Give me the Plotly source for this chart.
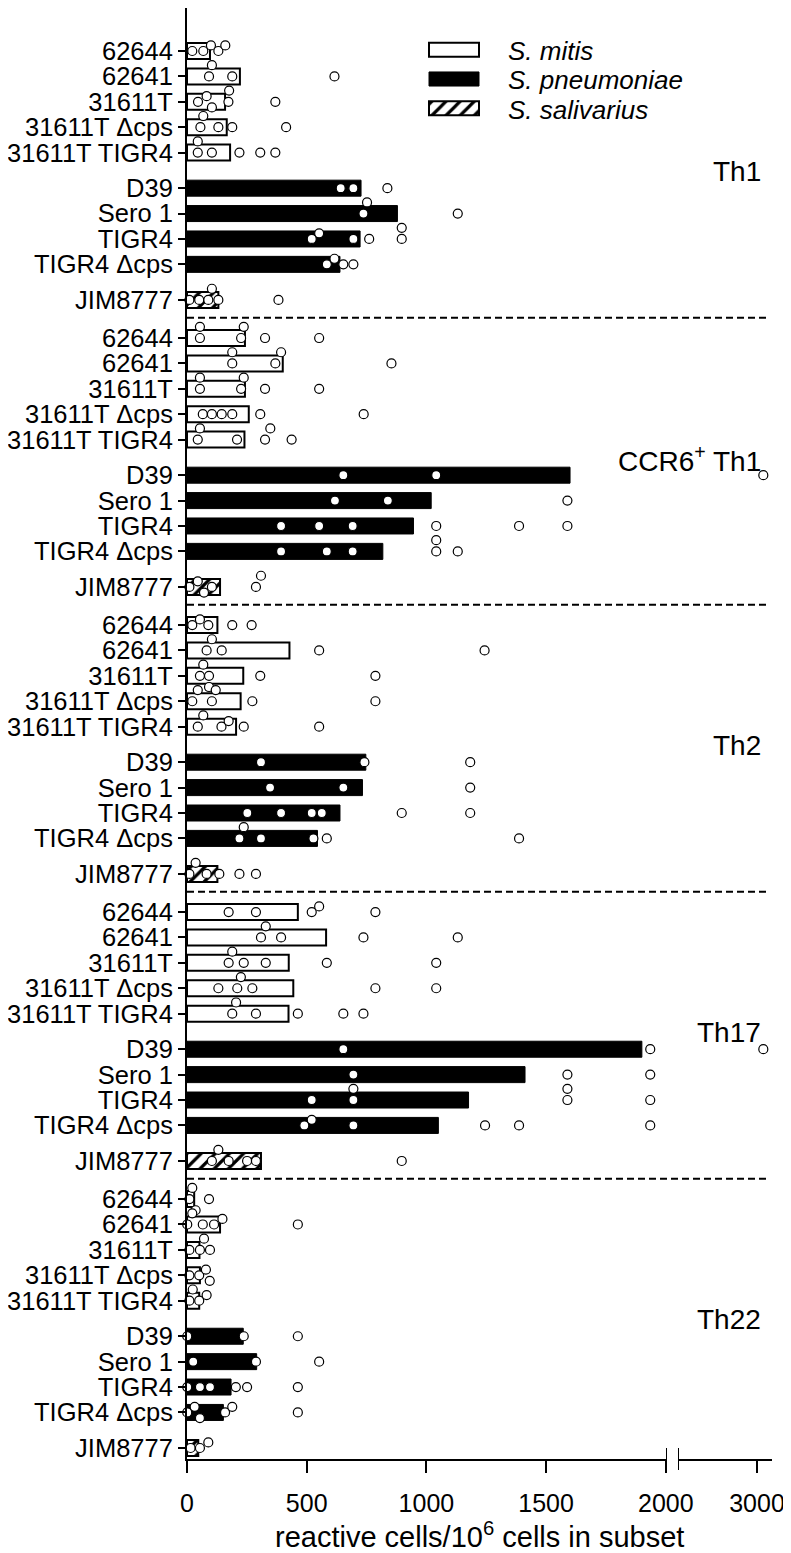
import plotly.graph_objects as go

# ---------------- data ----------------
strains = ["62644", "62641", "31611T", "31611T Δcps", "31611T TIGR4",
           "D39", "Sero 1", "TIGR4", "TIGR4 Δcps", "JIM8777"]
strain_species = ["S. mitis"] * 5 + ["S. pneumoniae"] * 4 + ["S. salivarius"]
subsets = ["Th1", "CCR6<sup>+</sup> Th1", "Th2", "Th17", "Th22"]

th1_bars = [96, 221, 159, 166, 180, 727, 879, 723, 639, 131]
ccr6_bars = [242, 400, 242, 258, 240, 1600, 1020, 946, 818, 138]
th2_bars = [127, 428, 235, 224, 205, 747, 733, 639, 545, 127]
th17_bars = [463, 581, 425, 444, 424, 1900, 1412, 1176, 1050, 309]
th22_bars = [30, 138, 52, 54, 51, 235, 291, 184, 152, 47]

th1_dots = [
    [22, 68, 100, 131, 160],
    [92, 104, 189, 616],
    [46, 82, 104, 173, 176, 369],
    [56, 68, 131, 189, 414],
    [45, 45, 104, 219, 306, 369],
    [642, 695, 837],
    [737, 752, 1131],
    [521, 552, 695, 761, 897, 897],
    [584, 616, 653, 695],
    [10, 51, 89, 104, 131, 382],
]
ccr6_dots = [
    [54, 54, 226, 237, 326, 552],
    [189, 189, 369, 393, 854],
    [54, 54, 226, 237, 326, 552],
    [66, 104, 145, 189, 306, 738],
    [45, 54, 209, 326, 348, 437],
    [653, 1041, 3080],
    [618, 839, 1589],
    [393, 552, 692, 1041, 1387, 1589],
    [393, 584, 692, 1041, 1041, 1131],
    [10, 45, 71, 104, 288, 309],
]
th2_dots = [
    [22, 54, 89, 189, 270],
    [82, 104, 145, 552, 1243],
    [54, 68, 92, 92, 306, 787],
    [22, 45, 104, 120, 273, 787],
    [45, 68, 144, 174, 237, 552],
    [309, 741, 1183],
    [347, 653, 1183],
    [252, 393, 521, 563, 897, 1183],
    [219, 237, 309, 528, 584, 1387],
    [10, 36, 82, 135, 219, 288],
]
th17_dots = [
    [174, 288, 521, 552, 787],
    [309, 329, 393, 737, 1131],
    [174, 189, 237, 329, 584, 1041],
    [131, 210, 225, 273, 787, 1041],
    [189, 205, 288, 463, 653, 737],
    [653, 1935, 3080],
    [695, 1589, 1935],
    [521, 695, 695, 1589, 1589, 1935],
    [490, 521, 695, 1245, 1387, 1935],
    [104, 131, 174, 251, 288, 897],
]
th22_dots = [
    [10, 22, 36, 92],
    [1, 22, 66, 113, 148, 463],
    [10, 54, 71, 96],
    [10, 51, 79, 95],
    [10, 24, 51, 82],
    [1, 237, 463],
    [26, 288, 552],
    [1, 54, 96, 204, 251, 463],
    [1, 32, 54, 159, 189, 463],
    [15, 54, 89],
]

x_ticks_left = [0, 500, 1000, 1500, 2000]
x_ticks_right = [3000]
x_title = "reactive cells/10<sup>6</sup> cells in subset"

all_bars = [th1_bars, ccr6_bars, th2_bars, th17_bars, th22_bars]
all_dots = [th1_dots, ccr6_dots, th2_dots, th17_dots, th22_dots]

# ---------------- layout constants ----------------
FONT = "Liberation Sans, Arial, sans-serif"
ROW_OFFSETS = [0, 1, 2, 3, 4, 5.4, 6.4, 7.4, 8.4, 9.8]
PANEL_STEP = 11.3
BAR_W = 0.63
LEFT_MAX = 2005
RIGHT_RANGE = [2000, 3190]
PX_PER_VAL = 480 / LEFT_MAX
PX_PER_ROW = 25.4
FIRST_ROW_PX = 51
DOT_D = 9


def row_pos(p, i):
    return p * PANEL_STEP + ROW_OFFSETS[i]


def swarm(vals):
    order = sorted(range(len(vals)), key=lambda k: vals[k])
    placed = []
    offs = [0.0] * len(vals)
    for k in order:
        v = vals[k]
        xp = v * PX_PER_VAL if v <= LEFT_MAX else 100000 + v
        chosen = 0.0
        for o in [0.0, -0.22, 0.22, -0.44, 0.44]:
            if all((xp - px) ** 2 + ((o - po) * PX_PER_ROW) ** 2 >= (DOT_D - 0.3) ** 2
                   for px, po in placed):
                chosen = o
                break
        placed.append((xp, chosen))
        offs[k] = chosen
    return offs


fig = go.Figure()

species_style = {
    "S. mitis": dict(color="white", line=dict(color="black", width=2)),
    "S. pneumoniae": dict(color="black", line=dict(color="black", width=1)),
    "S. salivarius": dict(color="white", line=dict(color="black", width=2),
                          pattern=dict(shape="/", fgcolor="black", bgcolor="white",
                                       size=10, solidity=0.32)),
}

# bars
for sp in ["S. mitis", "S. pneumoniae", "S. salivarius"]:
    xs, ys = [], []
    for p, bars in enumerate(all_bars):
        for i, v in enumerate(bars):
            if strain_species[i] == sp:
                xs.append(v)
                ys.append(row_pos(p, i))
    fig.add_trace(go.Bar(x=xs, y=ys, orientation="h", width=BAR_W,
                         marker=species_style[sp], xaxis="x", yaxis="y",
                         showlegend=False, hoverinfo="skip"))

# dots
lx, ly, rx, ry = [], [], [], []
for p, dots in enumerate(all_dots):
    for i, vals in enumerate(dots):
        offs = swarm(vals)
        for v, o in zip(vals, offs):
            y = row_pos(p, i) + o
            if v <= LEFT_MAX:
                lx.append(v); ly.append(y)
            else:
                rx.append(v); ry.append(y)

dot_marker = dict(symbol="circle", size=DOT_D, color="white",
                  line=dict(color="black", width=1.2))
fig.add_trace(go.Scatter(x=lx, y=ly, mode="markers", marker=dot_marker,
                         xaxis="x", yaxis="y", cliponaxis=False, showlegend=False))
fig.add_trace(go.Scatter(x=rx, y=ry, mode="markers", marker=dot_marker,
                         xaxis="x2", yaxis="y", cliponaxis=False, showlegend=False))

# legend glyphs drawn as bars in a small axis
leg_names = ["S. mitis", "S. pneumoniae", "S. salivarius"]
for k, sp in enumerate(leg_names):
    fig.add_trace(go.Bar(x=[1], y=[k], orientation="h", width=0.48,
                         marker=species_style[sp], xaxis="x3", yaxis="y3",
                         showlegend=False, hoverinfo="skip"))

# ---------------- layout ----------------
PAGE = 8                      # browser body margin around the plot div
W, H = 791 - PAGE, 1553 - PAGE
PLOT_L, PLOT_R, PLOT_T, PLOT_B = 187, 772, 8, 1459   # screen px of plot area
ML = PLOT_L - PAGE
MR = W - (PLOT_R - PAGE)
MT = PLOT_T - PAGE
MB = H - (PLOT_B - PAGE)
PW = PLOT_R - PLOT_L
PH = PLOT_B - PLOT_T


def px2paper_x(sx):
    return (sx - PLOT_L) / PW


def py2paper_y(sy):
    return (PLOT_B - sy) / PH


axis_common = dict(showline=True, linecolor="black", linewidth=2, ticks="outside",
                   ticklen=12, tickwidth=2, tickcolor="black", showgrid=False,
                   zeroline=False, tickfont=dict(family=FONT, size=25, color="black"),
                   ticklabelstandoff=9, automargin=False)

tickvals_y = [row_pos(p, i) for p in range(len(subsets)) for i in range(len(strains))]
ticktext_y = [s for _ in subsets for s in strains]

y_top = (PLOT_T - FIRST_ROW_PX) / PX_PER_ROW
y_bot = (PLOT_B - FIRST_ROW_PX) / PX_PER_ROW

fig.update_layout(
    template=None,
    width=W, height=H, margin=dict(l=ML, r=MR, t=MT, b=MB, pad=0, autoexpand=False),
    plot_bgcolor="white", paper_bgcolor="white", barmode="overlay",
    showlegend=False,
    font=dict(family=FONT, color="black"),
    xaxis=dict(domain=[0, px2paper_x(667)], range=[0, LEFT_MAX],
               tickvals=x_ticks_left, anchor="y", **axis_common),
    xaxis2=dict(domain=[px2paper_x(678), 1], range=RIGHT_RANGE,
                tickvals=x_ticks_right, anchor="y", **axis_common),
    yaxis=dict(range=[y_bot, y_top], tickvals=tickvals_y, ticktext=ticktext_y,
               showline=True, linecolor="black", linewidth=2, ticks="outside",
               ticklen=7, tickwidth=2, tickcolor="black", showgrid=False,
               zeroline=False, tickfont=dict(family=FONT, size=25.5, color="black"),
               anchor="x", automargin=False),
    xaxis3=dict(domain=[px2paper_x(427.5), px2paper_x(480.5)], range=[-0.03, 1.03],
                visible=False, anchor="y3", automargin=False),
    yaxis3=dict(domain=[py2paper_y(123), py2paper_y(35)], range=[2.5, -0.5],
                visible=False, anchor="x3", automargin=False),
)

shapes = []
# dashed separators
for p in range(len(subsets) - 1):
    yv = row_pos(p, 9) + 0.7
    shapes.append(dict(type="line", xref="paper", yref="y", x0=0, x1=px2paper_x(769),
                       y0=yv, y1=yv, line=dict(color="black", width=2, dash="7px,4px")))
# axis break marks
shapes.append(dict(type="line", xref="x", yref="paper", x0=LEFT_MAX, x1=LEFT_MAX,
                   y0=py2paper_y(1470), y1=py2paper_y(1448),
                   line=dict(color="black", width=2)))
shapes.append(dict(type="line", xref="x2", yref="paper", x0=RIGHT_RANGE[0], x1=RIGHT_RANGE[0],
                   y0=py2paper_y(1470), y1=py2paper_y(1448),
                   line=dict(color="black", width=2)))
fig.update_layout(shapes=shapes)

ann = []
for p, name in enumerate(subsets):
    ann.append(dict(text=name, xref="paper", yref="y", x=px2paper_x(763),
                    y=p * PANEL_STEP + 4.75, xanchor="right", yanchor="middle",
                    showarrow=False, font=dict(family=FONT, size=28, color="black")))
for k, (sp, sy) in enumerate(zip(leg_names, [51, 80, 110])):
    ann.append(dict(text="<i>" + sp + "</i>", xref="paper", yref="paper",
                    x=px2paper_x(506), y=py2paper_y(sy), xanchor="left", yanchor="middle",
                    showarrow=False, font=dict(family=FONT, size=26, color="black")))
ann.append(dict(text=x_title, xref="paper", yref="paper", x=0.5, y=py2paper_y(1535),
                xanchor="center", yanchor="middle", showarrow=False,
                font=dict(family=FONT, size=29, color="black")))
fig.update_layout(annotations=ann)

fig.write_html("out.html")
